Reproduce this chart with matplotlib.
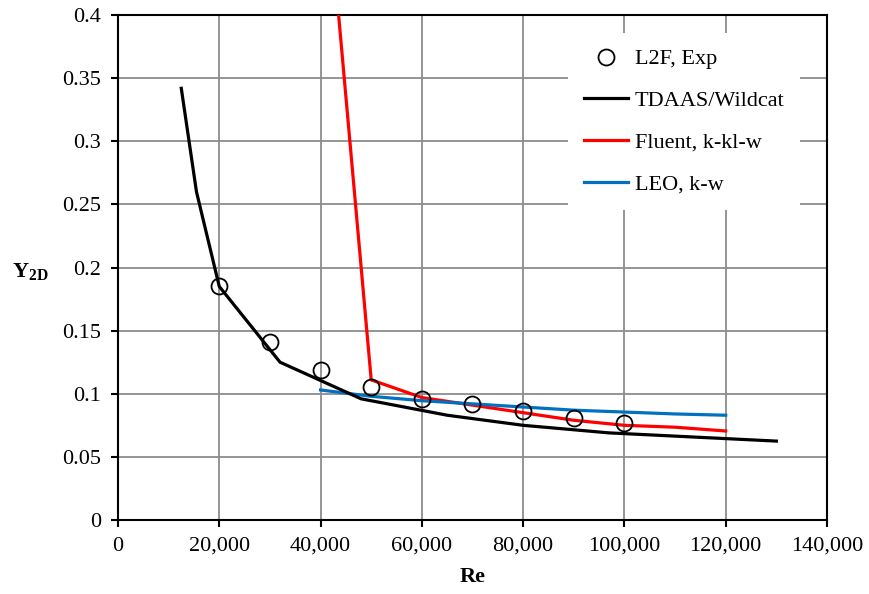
import matplotlib
matplotlib.use('Agg')
import matplotlib.pyplot as plt
from matplotlib.ticker import FuncFormatter, MultipleLocator

# Donnees
re_exp = [20000, 30000, 40000, 50000, 60000, 70000, 80000, 90000, 100000]
y_exp = [0.185, 0.141, 0.119, 0.105, 0.096, 0.092, 0.086, 0.081, 0.077]

re_tdaas = [12500, 15500, 20000, 32000, 48000, 65000, 80000, 97000, 130000]
y_tdaas = [0.342, 0.260, 0.185, 0.125, 0.096, 0.083, 0.075, 0.069, 0.0625]

re_fluent = [40000, 50000, 60000, 70000, 80000, 90000, 100000, 110000, 120000]
y_fluent = [0.56, 0.111, 0.097, 0.091, 0.085, 0.079, 0.075, 0.0735, 0.0705]

re_leo = [40000, 50000, 60000, 70000, 80000, 90000, 100000, 110000, 120000]
y_leo = [0.103, 0.098, 0.0945, 0.092, 0.0895, 0.087, 0.0855, 0.084, 0.083]

plt.rcParams['font.family'] = ['Liberation Serif', 'DejaVu Serif']
plt.rcParams['mathtext.fontset'] = 'custom'
plt.rcParams['mathtext.rm'] = 'Liberation Serif'
plt.rcParams['mathtext.bf'] = 'Liberation Serif:bold'

fig = plt.figure(figsize=(8.7, 5.94), dpi=100)
ax = fig.add_axes([0.1356, 0.1246, 0.815, 0.85])

ax.plot(re_exp, y_exp, 'o', ms=11.5, mfc='none', mec='black', mew=1.3,
        label='L2F, Exp', zorder=5)
ax.plot(re_tdaas, y_tdaas, color='black', lw=2.3, label='TDAAS/Wildcat', zorder=4)
ax.plot(re_fluent, y_fluent, color='#ff0000', lw=2.3, label='Fluent, k-kl-w', zorder=3)
ax.plot(re_leo, y_leo, color='#0070c0', lw=2.3, label='LEO, k-w', zorder=3)

ax.set_xlim(0, 140000)
ax.set_ylim(0, 0.4)
ax.xaxis.set_major_locator(MultipleLocator(20000))
ax.yaxis.set_major_locator(MultipleLocator(0.05))
ax.xaxis.set_major_formatter(FuncFormatter(lambda v, p: f'{int(v):,}'))
ax.yaxis.set_major_formatter(FuncFormatter(lambda v, p: '0' if v == 0 else f'{v:g}'))

ax.grid(True, color='#8c8c8c', lw=1.3)
ax.set_axisbelow(True)
for s in ax.spines.values():
    s.set_linewidth(1.5)
ax.tick_params(direction='out', length=5, width=1.5, labelsize=16, pad=7)

ax.set_xlabel('Re', fontsize=16, fontweight='bold', labelpad=8)
ax.set_ylabel(r'$\mathbf{Y}_{\mathbf{2D}}$', fontsize=16, rotation=0, va='center', ha='center')
ax.yaxis.set_label_coords(-0.124, 0.491)

leg = ax.legend(loc='upper right', bbox_to_anchor=(0.962, 0.964), borderaxespad=0,
                fontsize=16, frameon=True, fancybox=False, edgecolor='white',
                framealpha=1, handlelength=2.0, handletextpad=0.3,
                labelspacing=0.95, borderpad=0.7)
leg.get_frame().set_linewidth(0)

fig.savefig('out.png', dpi=100)
